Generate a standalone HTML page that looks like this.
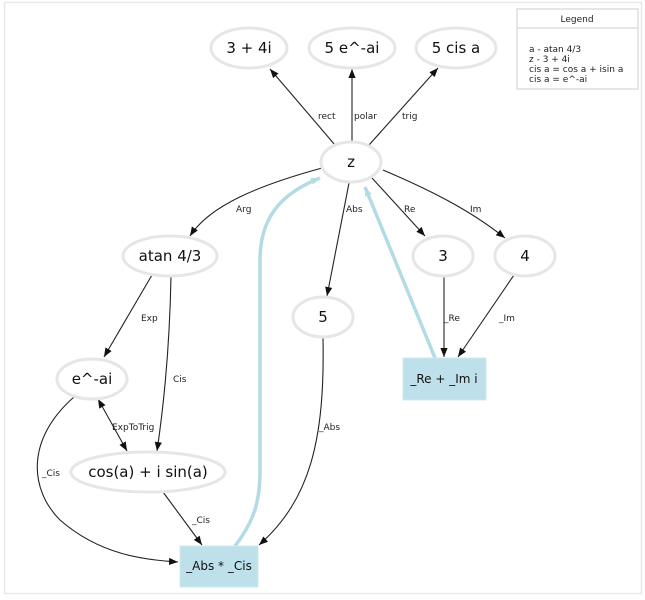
<!DOCTYPE html>
<html><head><meta charset="utf-8"><style>
body{margin:0;background:#fff}
svg{display:block;font-family:"DejaVu Sans","Liberation Sans",sans-serif}
.n{fill:#fff;stroke:#e6e6e6;stroke-width:3}
.t{font-size:15px;text-anchor:middle;dominant-baseline:central;fill:#111}
.l{font-size:9px;fill:#222}
.e{fill:none;stroke:#222;stroke-width:1.1}
.b{fill:none;stroke:#b3dbe6;stroke-width:3.5}
</style></head><body>
<svg width="645" height="600" viewBox="0 0 645 600">
<defs>
<marker id="a" viewBox="0 0 10 10" refX="10" refY="5" markerWidth="9" markerHeight="9" orient="auto-start-reverse" markerUnits="userSpaceOnUse"><path d="M0,1 L10,5 L0,9z" fill="#111"/></marker>
<marker id="ab" viewBox="0 0 10 10" refX="10" refY="5" markerWidth="9" markerHeight="9" orient="auto" markerUnits="userSpaceOnUse"><path d="M0,1 L10,5 L0,9z" fill="#b3dbe6"/></marker>
</defs>
<rect x="4.5" y="2.5" width="637" height="591" fill="#fff" stroke="#e8e8e8" stroke-width="1.5"/>
<!-- blue edges -->
<path class="b" d="M235,546 C255,520 260,500 260,470 L260,260 C260,210 290,190 320,178" marker-end="url(#ab)"/>
<path class="b" d="M435,358 L365,187" marker-end="url(#ab)"/>
<!-- black edges -->
<path class="e" d="M335,145 L270,69" marker-end="url(#a)"/>
<path class="e" d="M352,141 L352,69" marker-end="url(#a)"/>
<path class="e" d="M369,145 L438,68" marker-end="url(#a)"/>
<path class="e" d="M322,168 C260,185 210,205 190,236" marker-end="url(#a)"/>
<path class="e" d="M349,183 L327,296" marker-end="url(#a)"/>
<path class="e" d="M372,178 L425,236" marker-end="url(#a)"/>
<path class="e" d="M383,170 C430,190 470,210 505,238" marker-end="url(#a)"/>
<path class="e" d="M152,275 L104,357" marker-end="url(#a)"/>
<path class="e" d="M171,276 C170,330 166,390 157,451" marker-end="url(#a)"/>
<path class="e" d="M98,399 L127,451" marker-start="url(#a)" marker-end="url(#a)"/>
<path class="e" d="M74,397 C25,440 30,490 60,520 C100,555 145,560 178,562" marker-end="url(#a)"/>
<path class="e" d="M163,492 L202,545" marker-end="url(#a)"/>
<path class="e" d="M323,338 C325,440 310,500 259,545" marker-end="url(#a)"/>
<path class="e" d="M444,276 L444,357" marker-end="url(#a)"/>
<path class="e" d="M514,275 L458,357" marker-end="url(#a)"/>
<!-- nodes -->
<ellipse class="n" cx="249" cy="48" rx="38" ry="20"/><text class="t" x="249" y="48">3 + 4i</text>
<ellipse class="n" cx="352" cy="48" rx="43" ry="20"/><text class="t" x="352" y="48">5 e^-ai</text>
<ellipse class="n" cx="456" cy="48" rx="40" ry="20"/><text class="t" x="456" y="48">5 cis a</text>
<ellipse class="n" cx="351" cy="162" rx="30" ry="20"/><text class="t" x="351" y="162">z</text>
<ellipse class="n" cx="170" cy="256" rx="47" ry="20"/><text class="t" x="170" y="256">atan 4/3</text>
<ellipse class="n" cx="443" cy="256" rx="30" ry="20"/><text class="t" x="443" y="256">3</text>
<ellipse class="n" cx="525" cy="256" rx="30" ry="20"/><text class="t" x="525" y="256">4</text>
<ellipse class="n" cx="323" cy="317" rx="30" ry="20"/><text class="t" x="323" y="317">5</text>
<ellipse class="n" cx="92" cy="379" rx="35" ry="20"/><text class="t" x="92" y="379">e^-ai</text>
<ellipse class="n" cx="148" cy="472" rx="77" ry="20"/><text class="t" x="148" y="472">cos(a) + i sin(a)</text>
<rect x="403" y="358" width="83" height="42" fill="#bde0ea" stroke="#d0e8ef"/>
<text class="t" x="444" y="379" style="font-size:12px">_Re + _Im i</text>
<rect x="180" y="546" width="78" height="41" fill="#bde0ea" stroke="#d0e8ef"/>
<text class="t" x="219" y="566" style="font-size:12px">_Abs * _Cis</text>
<!-- labels -->
<text class="l" x="318" y="119">rect</text>
<text class="l" x="354" y="119">polar</text>
<text class="l" x="402" y="119">trig</text>
<text class="l" x="236" y="212">Arg</text>
<text class="l" x="346" y="212">Abs</text>
<text class="l" x="404" y="212">Re</text>
<text class="l" x="470" y="212">Im</text>
<text class="l" x="141" y="321">Exp</text>
<text class="l" x="173" y="382">Cis</text>
<text class="l" x="112" y="430">ExpToTrig</text>
<text class="l" x="42" y="476">_Cis</text>
<text class="l" x="192" y="523">_Cis</text>
<text class="l" x="319" y="430">_Abs</text>
<text class="l" x="444" y="321">_Re</text>
<text class="l" x="499" y="321">_Im</text>
<!-- legend -->
<rect x="517" y="9" width="121" height="80" fill="#fff" stroke="#ddd" stroke-width="1.5"/>
<line x1="517" y1="28" x2="638" y2="28" stroke="#ddd" stroke-width="1.5"/>
<text class="l" x="577" y="22" text-anchor="middle">Legend</text>
<text class="l" x="529" y="52">a - atan 4/3</text>
<text class="l" x="529" y="62">z - 3 + 4i</text>
<text class="l" x="529" y="72">cis a = cos a + isin a</text>
<text class="l" x="529" y="82">cis a = e^-ai</text>
</svg>
</body></html>
